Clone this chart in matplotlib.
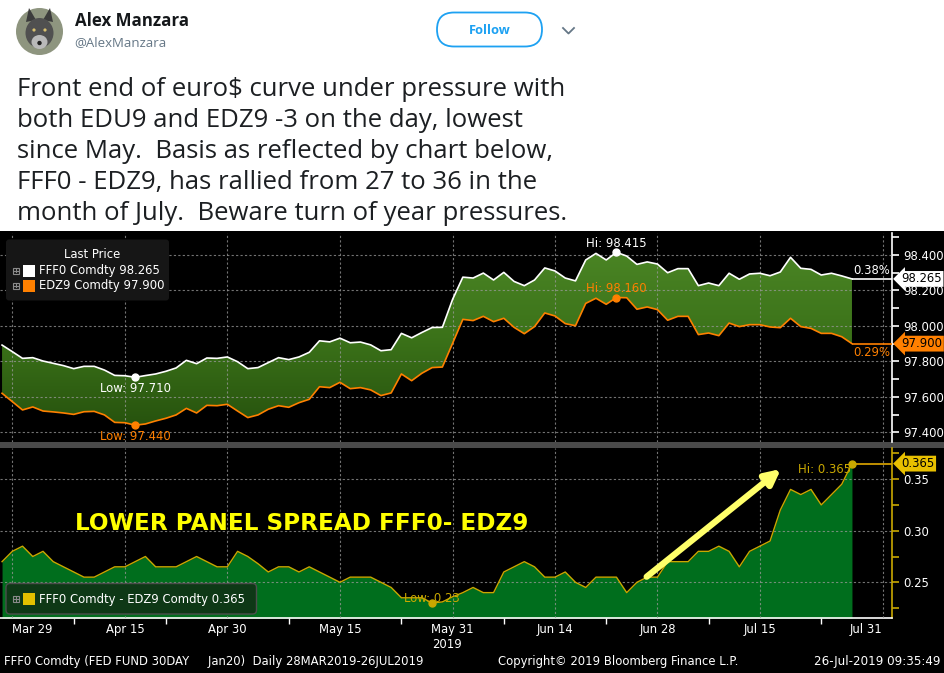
import numpy as np
import pandas as pd
import matplotlib
matplotlib.use('Agg')
import matplotlib.pyplot as plt
import matplotlib.transforms as mtransforms
from matplotlib.patches import Rectangle, FancyBboxPatch, Circle, Ellipse, Polygon
from matplotlib.colors import LinearSegmentedColormap

# ---------------- data ----------------
holidays = ['2019-04-19', '2019-05-27', '2019-07-04']
fff0 = [97.892, 97.855, 97.817, 97.821, 97.802, 97.789, 97.776, 97.759, 97.772, 97.772,
        97.751, 97.721, 97.719, 97.710, 97.720, 97.729, 97.744, 97.763, 97.806, 97.787,
        97.819, 97.817, 97.825, 97.798, 97.759, 97.765, 97.793, 97.821, 97.810, 97.825,
        97.851, 97.916, 97.910, 97.931, 97.905, 97.909, 97.893, 97.860, 97.866, 97.958,
        97.933, 97.963, 97.991, 97.992, 98.150, 98.275, 98.270, 98.298, 98.259, 98.302,
        98.251, 98.227, 98.259, 98.327, 98.310, 98.270, 98.254, 98.372, 98.409, 98.372,
        98.415, 98.394, 98.347, 98.361, 98.349, 98.300, 98.323, 98.323, 98.227, 98.242,
        98.227, 98.297, 98.263, 98.293, 98.297, 98.283, 98.304, 98.387, 98.325, 98.319,
        98.287, 98.297, 98.282, 98.265]
edz9 = [97.620, 97.573, 97.526, 97.543, 97.520, 97.515, 97.509, 97.501, 97.516, 97.518,
        97.498, 97.456, 97.454, 97.440, 97.447, 97.464, 97.479, 97.498, 97.535, 97.509,
        97.552, 97.550, 97.558, 97.520, 97.483, 97.498, 97.530, 97.550, 97.541, 97.567,
        97.586, 97.657, 97.652, 97.682, 97.646, 97.652, 97.639, 97.607, 97.622, 97.729,
        97.691, 97.733, 97.765, 97.768, 97.902, 98.037, 98.030, 98.054, 98.024, 98.043,
        97.992, 97.956, 97.996, 98.073, 98.056, 98.013, 98.001, 98.127, 98.156, 98.122,
        98.160, 98.159, 98.094, 98.107, 98.092, 98.032, 98.054, 98.054, 97.951, 97.960,
        97.945, 98.016, 97.996, 98.007, 98.007, 97.994, 97.990, 98.043, 97.996, 97.986,
        97.958, 97.958, 97.939, 97.900]
spread = [0.270, 0.280, 0.285, 0.275, 0.280, 0.270, 0.265, 0.260, 0.255, 0.255,
          0.260, 0.265, 0.265, 0.270, 0.275, 0.265, 0.265, 0.265, 0.270, 0.275,
          0.270, 0.265, 0.265, 0.280, 0.275, 0.268, 0.260, 0.265, 0.265, 0.260,
          0.265, 0.260, 0.255, 0.250, 0.255, 0.255, 0.255, 0.250, 0.245, 0.235,
          0.235, 0.235, 0.230, 0.231, 0.236, 0.240, 0.245, 0.240, 0.240, 0.260,
          0.265, 0.270, 0.265, 0.255, 0.255, 0.260, 0.250, 0.245, 0.255, 0.255,
          0.255, 0.240, 0.250, 0.255, 0.255, 0.270, 0.270, 0.270, 0.280, 0.280,
          0.285, 0.280, 0.265, 0.280, 0.285, 0.290, 0.320, 0.340, 0.335, 0.340,
          0.325, 0.335, 0.345, 0.365]
tick_dates = ['2019-03-29', '2019-04-15', '2019-04-30', '2019-05-15', '2019-05-31',
              '2019-06-14', '2019-06-28', '2019-07-15', '2019-07-31']
tick_labels = ['Mar 29', 'Apr 15', 'Apr 30', 'May 15', 'May 31',
               'Jun 14', 'Jun 28', 'Jul 15', 'Jul 31']
upper_ticks = [97.4, 97.6, 97.8, 98.0, 98.2, 98.4]
lower_ticks = [0.25, 0.30, 0.35]
tweet_lines = ["Front end of euro$ curve under pressure with",
               "both EDU9 and EDZ9 -3 on the day, lowest",
               "since May.  Basis as reflected by chart below,",
               "FFF0 - EDZ9, has rallied from 27 to 36 in the",
               "month of July.  Beware turn of year pressures."]

# trading-day axis
days = pd.bdate_range('2019-03-28', '2019-07-31', freq='C', holidays=holidays)
x = np.arange(len(fff0))
tick_pos = [days.get_loc(pd.Timestamp(d)) for d in tick_dates]
minor_pos = [7, 16, 28, 39, 49, 59, 69, 80]

W, H = 945, 673
fig = plt.figure(figsize=(W / 100, H / 100), dpi=100)
fig.patch.set_facecolor('white')
renderer = fig.canvas.get_renderer()

def rect(x0, y0, x1, y1):
    return [x0 / W, 1 - y1 / H, (x1 - x0) / W, (y1 - y0) / H]

def fit(t, target):
    w = t.get_window_extent(renderer).width
    t.set_fontsize(t.get_fontsize() * target / w)

CF = 'DejaVu Sans'
FS = 8.4
WHITE = 'white'
ORANGE = '#ff8000'
GOLD = '#c9a800'

# ---------------- background / tweet ----------------
bg = fig.add_axes([0, 0, 1, 1], zorder=0)
bg.set_xlim(0, W); bg.set_ylim(H, 0); bg.axis('off')
bg.add_patch(Rectangle((0, 230.5), W, H - 230.5, fc='black', ec='none'))
bg.add_patch(Rectangle((0, 442.3), W, 5.2, fc='#4a4a4a', ec='none'))

# avatar (stylised fox)
bg.add_patch(Circle((39.5, 31.5), 23.5, fc='#8e957f', ec='none'))
bg.add_patch(Polygon([[26, 22], [29, 8], [36, 20]], fc='#3c3c3c', ec='none'))
bg.add_patch(Polygon([[43, 20], [50, 8], [53, 22]], fc='#3c3c3c', ec='none'))
bg.add_patch(Ellipse((39.5, 33), 28, 30, fc='#505050', ec='none'))
bg.add_patch(Ellipse((39.5, 42), 16, 14, fc='#b9b9b9', ec='none'))
bg.add_patch(Circle((34, 30), 1.6, fc='#d8c070', ec='none'))
bg.add_patch(Circle((45, 30), 1.6, fc='#d8c070', ec='none'))
bg.add_patch(Circle((39.5, 43), 2.2, fc='#202020', ec='none'))

t = bg.text(74.6, 21, 'Alex Manzara', family='Open Sans', fontweight='bold',
            fontsize=12, color='#14171a', va='center')
fit(t, 114)
t = bg.text(74.6, 43, '@AlexManzara', family='Open Sans', fontsize=10.5,
            color='#657786', va='center')
fit(t, 92)
bg.add_patch(FancyBboxPatch((437, 12.5), 105, 34, boxstyle='round,pad=0,rounding_size=17',
                            fc='white', ec='#1da1f2', lw=1.3))
t = bg.text(490, 30, 'Follow', family='Open Sans', fontweight='bold', fontsize=10.5,
            color='#1da1f2', ha='center', va='center')
fit(t, 42)
bg.plot([563, 568.5, 574], [28, 33.5, 28], color='#657786', lw=1.3)

baselines = [95.7, 126.7, 157.7, 188.7, 219.7]
tl = []
for txt, yb in zip(tweet_lines, baselines):
    tl.append(bg.text(17, yb, txt, family='Open Sans', fontsize=17, color='#1c1f22',
                      va='baseline', ha='left'))
w0 = tl[0].get_window_extent(renderer).width
for tt in tl:
    tt.set_fontsize(17 * 548 / w0)

# ---------------- upper panel ----------------
axu = fig.add_axes(rect(0, 233, 891.7, 442.3), zorder=1)
axu.set_facecolor('black')
poly = axu.fill_between(x, fff0, edz9, facecolor='none', edgecolor='none')
cmap = LinearSegmentedColormap.from_list('g', ['#27530e', '#3b7219', '#4a8424'])
grad = np.linspace(0, 1, 256).reshape(-1, 1)
im = axu.imshow(grad, extent=[x[0], x[-1], min(edz9), max(fff0)], origin='lower',
                aspect='auto', cmap=cmap, zorder=1, interpolation='bilinear')
im.set_clip_path(poly.get_paths()[0], transform=axu.transData)
axu.plot(x, fff0, color=WHITE, lw=1.2, zorder=3)
axu.plot(x, edz9, color=ORANGE, lw=1.2, zorder=3)
axu.set_xlim(-0.2, 86.88)
axu.set_ylim(97.3436, 98.524)
axu.set_axisbelow(False)
axu.set_xticks(tick_pos)
axu.set_xticklabels([])
axu.tick_params(axis='x', length=0)
axu.yaxis.tick_right()
axu.set_yticks(upper_ticks)
axu.set_yticklabels([f'{v:.3f}' for v in upper_ticks])
axu.set_yticks([97.5, 97.7, 97.9, 98.1, 98.3, 98.5], minor=True)
axu.tick_params(axis='y', which='both', colors=WHITE, direction='out', length=5,
                width=1.2, pad=3, labelsize=FS)
axu.grid(True, which='major', color='#9a9a9a', alpha=0.75, linestyle=(0, (2, 2)), lw=0.8)
for s in ['top', 'left', 'bottom']:
    axu.spines[s].set_visible(False)
axu.spines['right'].set_color(WHITE)
axu.spines['right'].set_linewidth(1.2)

i_lo_f = int(np.argmin(fff0)); i_hi_f = int(np.argmax(fff0))
i_lo_e = int(np.argmin(edz9)); i_hi_e = int(np.argmax(edz9))
axu.plot([i_lo_f, i_hi_f], [fff0[i_lo_f], fff0[i_hi_f]], 'o', color=WHITE, ms=5, zorder=5)
axu.plot([i_lo_e, i_hi_e], [edz9[i_lo_e], edz9[i_hi_e]], 'o', color=ORANGE, ms=5, zorder=5)
kw = dict(textcoords='offset points', ha='center', va='center', fontsize=FS, zorder=6)
axu.annotate(f'Low: {fff0[i_lo_f]:.3f}', (i_lo_f, fff0[i_lo_f]), xytext=(0, -7.9), color=WHITE, **kw)
axu.annotate(f'Low: {edz9[i_lo_e]:.3f}', (i_lo_e, edz9[i_lo_e]), xytext=(0, -8.3), color=ORANGE, **kw)
axu.annotate(f'Hi: {fff0[i_hi_f]:.3f}', (i_hi_f, fff0[i_hi_f]), xytext=(0, 6.7), color=WHITE, **kw)
axu.annotate(f'Hi: {edz9[i_hi_e]:.3f}', (i_hi_e, edz9[i_hi_e]), xytext=(0, 6.7), color=ORANGE, **kw)

xr = axu.get_xlim()[1]
axu.hlines(fff0[-1], x[-1], xr, color=WHITE, lw=1.2, zorder=3)
axu.hlines(edz9[-1], x[-1], xr, color=ORANGE, lw=1.2, zorder=3)
tru = mtransforms.blended_transform_factory(axu.transAxes, axu.transData)
axu.annotate('0.38%', (1, fff0[-1]), xycoords=tru, xytext=(-1.2, 5.9), textcoords='offset points',
             ha='right', va='center', color=WHITE, fontsize=FS, zorder=6)
axu.annotate('0.29%', (1, edz9[-1]), xycoords=tru, xytext=(-1.2, -6.3), textcoords='offset points',
             ha='right', va='center', color=ORANGE, fontsize=FS, zorder=6)
axu.annotate(f'{fff0[-1]:.3f}', (1, fff0[-1]), xycoords=tru, xytext=(7, 0), textcoords='offset points',
             ha='left', va='center', color='black', fontsize=FS, zorder=7,
             bbox=dict(boxstyle='larrow,pad=0.12', fc=WHITE, ec='none'))
axu.annotate(f'{edz9[-1]:.3f}', (1, edz9[-1]), xycoords=tru, xytext=(7, 0), textcoords='offset points',
             ha='left', va='center', color='black', fontsize=FS, zorder=7,
             bbox=dict(boxstyle='larrow,pad=0.12', fc=ORANGE, ec='none'))

# ---------------- lower panel ----------------
axl = fig.add_axes(rect(0, 447.5, 891.7, 618.3), zorder=1)
axl.set_facecolor('black')
ylo = 0.21512
axl.fill_between(x, spread, ylo, color='#006e1d', lw=0, zorder=1)
axl.plot(x, spread, color=GOLD, lw=1.0, zorder=3)
axl.set_xlim(-0.2, 86.88)
axl.set_ylim(ylo, 0.38062)
axl.set_axisbelow(False)
axl.set_xticks(tick_pos)
axl.set_xticklabels(tick_labels)
axl.set_xticks(minor_pos, minor=True)
axl.tick_params(axis='x', which='major', length=0, colors=WHITE, labelsize=FS, pad=3.2)
axl.tick_params(axis='x', which='minor', length=4, width=1, colors=WHITE)
labs = axl.get_xticklabels()
labs[0].set_ha('left')
labs[-1].set_ha('right')
axl.yaxis.tick_right()
axl.set_yticks(lower_ticks)
axl.set_yticklabels([f'{v:.2f}' for v in lower_ticks])
axl.set_yticks([0.225, 0.275, 0.325, 0.375], minor=True)
axl.tick_params(axis='y', which='both', colors=GOLD, labelcolor=WHITE, direction='out',
                length=5, width=1.2, pad=3, labelsize=FS)
axl.grid(True, which='major', color='#9a9a9a', alpha=0.75, linestyle=(0, (2, 2)), lw=0.8)
for s in ['top', 'left']:
    axl.spines[s].set_visible(False)
axl.spines['right'].set_color(GOLD)
axl.spines['right'].set_linewidth(1.2)
axl.spines['bottom'].set_color(WHITE)
axl.spines['bottom'].set_linewidth(1.2)

i_lo_s = int(np.argmin(spread)); i_hi_s = int(np.argmax(spread))
axl.plot([i_lo_s, i_hi_s], [spread[i_lo_s], spread[i_hi_s]], 'o', color=GOLD, ms=5, zorder=5)
axl.annotate(f'Low: {spread[i_lo_s]:.2f}', (i_lo_s, spread[i_lo_s]), xytext=(0, 2.9),
             textcoords='offset points', ha='center', va='center', color=GOLD, fontsize=FS, zorder=6)
axl.annotate(f'Hi: {spread[i_hi_s]:.3f}', (i_hi_s, spread[i_hi_s]), xytext=(-0.5, -4.2),
             textcoords='offset points', ha='right', va='center', color=GOLD, fontsize=FS, zorder=6)
axl.hlines(spread[-1], x[-1], xr, color='#e0a800', lw=1.2, zorder=3)
trl = mtransforms.blended_transform_factory(axl.transAxes, axl.transData)
axl.annotate(f'{spread[-1]:.3f}', (1, spread[-1]), xycoords=trl, xytext=(7, 0), textcoords='offset points',
             ha='left', va='center', color='black', fontsize=FS, zorder=7,
             bbox=dict(boxstyle='larrow,pad=0.12', fc='#e8c000', ec='none'))
axl.annotate('', xy=(76.07, 0.3598), xytext=(62.95, 0.2554),
             arrowprops=dict(arrowstyle='-|>,head_length=0.9,head_width=0.45', color='#ffff6a',
                             lw=4.5, shrinkA=0, shrinkB=0), annotation_clip=False, zorder=8)

# ---------------- overlay: legends & footer ----------------
ov = fig.add_axes([0, 0, 1, 1], zorder=5)
ov.set_xlim(0, W); ov.set_ylim(H, 0); ov.axis('off')
ov.patch.set_alpha(0)

def plus_icon(xc, yc):
    ov.add_patch(Rectangle((xc - 3, yc - 3), 6, 6, fc='none', ec='#8a8a8a', lw=0.8))
    ov.plot([xc - 1.8, xc + 1.8], [yc, yc], color='#8a8a8a', lw=0.8)
    ov.plot([xc, xc], [yc - 1.8, yc + 1.8], color='#8a8a8a', lw=0.8)

ov.add_patch(FancyBboxPatch((6, 239.5), 163, 61, boxstyle='round,pad=0,rounding_size=3',
                            fc='#161616', ec='none'))
ov.text(92, 255, 'Last Price', ha='center', va='center', color=WHITE, fontsize=FS, family=CF)
plus_icon(16, 270.5)
ov.add_patch(Rectangle((23, 264.5), 12, 12, fc=WHITE, ec='none'))
ov.text(39, 270.5, f'FFF0 Comdty {fff0[-1]:.3f}', va='center', color=WHITE, fontsize=FS, family=CF)
plus_icon(16, 285.5)
ov.add_patch(Rectangle((23, 279.5), 12, 12, fc=ORANGE, ec='none'))
ov.text(39, 285.5, f'EDZ9 Comdty {edz9[-1]:.3f}', va='center', color=WHITE, fontsize=FS, family=CF)

ov.add_patch(FancyBboxPatch((6, 583.5), 250.5, 30.5, boxstyle='round,pad=0,rounding_size=4',
                            fc='#0e3816', ec='#4d4d4d', lw=1))
plus_icon(16, 599)
ov.add_patch(Rectangle((23, 592.5), 12, 12, fc='#e3c000', ec='none'))
ov.text(39, 599, f'FFF0 Comdty - EDZ9 Comdty {spread[-1]:.3f}', va='center', color=WHITE,
        fontsize=FS, family=CF)

t = ov.text(75, 523.3, 'LOWER PANEL SPREAD FFF0- EDZ9', fontweight='bold', color='#ffff00',
            va='center', ha='left', fontsize=16, family=CF)
fit(t, 452)

ov.text(447, 645, '2019', ha='center', va='center', color=WHITE, fontsize=FS, family=CF)
t = ov.text(4, 661.5, 'FFF0 Comdty (FED FUND 30DAY     Jan20)  Daily 28MAR2019-26JUL2019',
            va='center', ha='left', color=WHITE, fontsize=FS, family=CF)
fit(t, 419)
t = ov.text(498, 661.5, 'Copyright\u00a9 2019 Bloomberg Finance L.P.', va='center', ha='left',
            color=WHITE, fontsize=FS, family=CF)
fit(t, 239)
t = ov.text(940, 661.5, '26-Jul-2019 09:35:49', va='center', ha='right', color=WHITE,
            fontsize=FS, family=CF)
fit(t, 127)

fig.savefig('out.png', dpi=100, facecolor=fig.get_facecolor())
